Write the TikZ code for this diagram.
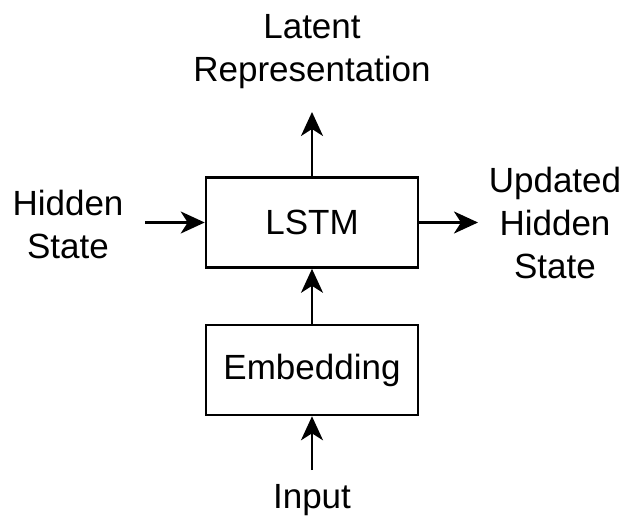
\documentclass[tikz,border=0pt]{standalone}
\usepackage{fontspec}
\setmainfont{Liberation Sans}
\usetikzlibrary{arrows.meta}
\begin{document}
\begin{tikzpicture}[x=1pt,y=-1pt,
  box/.style={draw, line width=2.6pt, minimum width=212pt, minimum height=90pt, inner sep=0pt, font=\fontsize{35}{43}\selectfont},
  lbl/.style={align=center, inner sep=0pt, font=\fontsize{35}{43}\selectfont},
  conn/.style={line width=2.6pt, -{Stealth[length=24pt,width=22pt,inset=7pt]}}
]
\useasboundingbox (0,0) rectangle (625,516);
\node[box] (lstm) at (312,222.5) {LSTM};
\node[box] (emb) at (312,370) {Embedding};
\node[lbl] (latent) at (312,51.5) {Latent\\Representation};
\node[lbl] (hidden) at (68,224) {Hidden\\State};
\node[lbl] (updated) at (555,223) {Updated\\Hidden\\State};
\node[lbl] (input) at (312,500) {Input};
\coordinate (ltip) at (312,112);
\coordinate (hstart) at (145,222.5);
\coordinate (utip) at (478,222.5);
\coordinate (istart) at (312,470);
\draw[conn] (lstm.north) -- (ltip);
\draw[conn] (hstart) -- (lstm.west);
\draw[conn] (lstm.east) -- (utip);
\draw[conn] (emb.north) -- (lstm.south);
\draw[conn] (istart) -- (emb.south);
\end{tikzpicture}
\end{document}
